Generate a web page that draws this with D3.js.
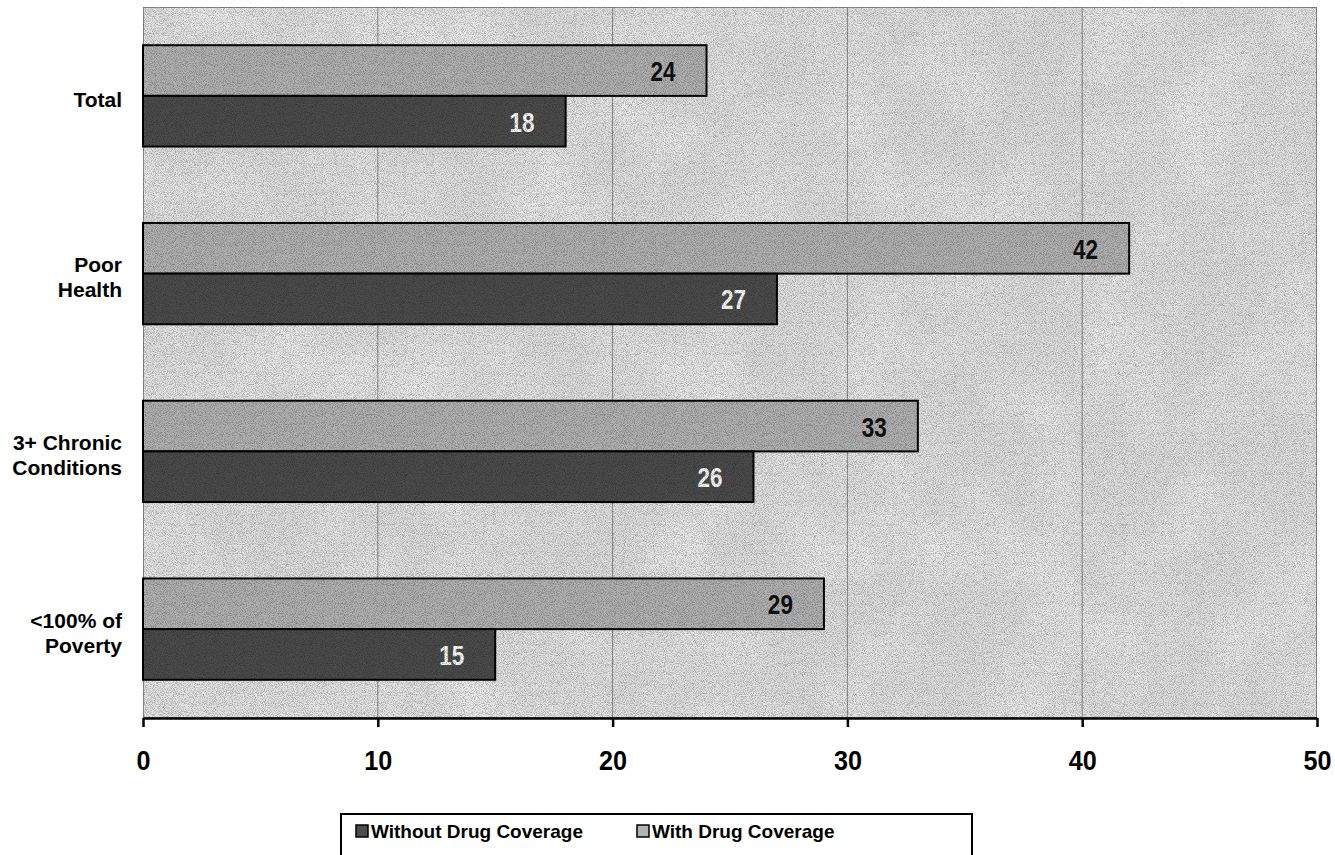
<!DOCTYPE html>
<html>
<head>
<meta charset="utf-8">
<script src="https://cdn.jsdelivr.net/npm/d3@7"></script>
<style>
  html, body { margin: 0; padding: 0; background: #ffffff; }
  svg { display: block; }
  text { font-family: Arial, "Liberation Sans", Helvetica, sans-serif; font-weight: bold; }
</style>
</head>
<body>
<svg id="chart" width="1335" height="855"></svg>
<script>
// Share of beneficiaries, by group and drug coverage
const categories = [["Total"], ["Poor", "Health"], ["3+ Chronic", "Conditions"], ["<100% of", "Poverty"]];
const categoryKeys = ["Total", "Poor Health", "3+ Chronic Conditions", "<100% of Poverty"];
const withCoverage = [24, 42, 33, 29];
const withoutCoverage = [18, 27, 26, 15];
const seriesNames = ["With Drug Coverage", "Without Drug Coverage"];
const legendOrder = ["Without Drug Coverage", "With Drug Coverage"];
const xTicks = [0, 10, 20, 30, 40, 50];

const svg = d3.select("#chart");
const plot = { left: 143, right: 1317, top: 7, bottom: 718 };

const x = d3.scaleLinear().domain([0, 50]).range([plot.left, plot.right]);
const y = d3.scaleBand().domain(categoryKeys).range([plot.top, plot.bottom])
  .paddingInner(0.43).paddingOuter(0.215);
const sub = d3.scaleBand().domain(seriesNames).range([0, y.bandwidth()]);

const fills = { "With Drug Coverage": "#b2b2b2", "Without Drug Coverage": "#4c4c4c" };
const labelColors = { "With Drug Coverage": "#111111", "Without Drug Coverage": "#ffffff" };

// grain texture used by the plot background and bars
const defs = svg.append("defs");
const grain = defs.append("filter").attr("id", "grain")
  .attr("x", 0).attr("y", 0).attr("width", "100%").attr("height", "100%");
grain.append("feTurbulence").attr("type", "fractalNoise")
  .attr("baseFrequency", 1.1).attr("numOctaves", 1).attr("seed", 7).attr("result", "noise");
grain.append("feColorMatrix").attr("in", "noise").attr("type", "matrix")
  .attr("values", "0 0 0 0 0  0 0 0 0 0  0 0 0 0 0  2.6 0 0 0 -1.05");
const haze = defs.append("filter").attr("id", "haze")
  .attr("x", 0).attr("y", 0).attr("width", "100%").attr("height", "100%");
haze.append("feTurbulence").attr("type", "fractalNoise")
  .attr("baseFrequency", 0.012).attr("numOctaves", 3).attr("seed", 3).attr("result", "n");
haze.append("feColorMatrix").attr("in", "n").attr("type", "matrix")
  .attr("values", "0 0 0 0 1  0 0 0 0 1  0 0 0 0 1  0 0 0 1.6 -0.6");

defs.append("clipPath").attr("id", "plotClip").append("rect")
  .attr("x", plot.left).attr("y", plot.top)
  .attr("width", plot.right - plot.left).attr("height", plot.bottom - plot.top);

// plot background
svg.append("rect")
  .attr("x", plot.left).attr("y", plot.top)
  .attr("width", plot.right - plot.left).attr("height", plot.bottom - plot.top)
  .attr("fill", "#e0e0e0");
svg.append("rect")
  .attr("x", plot.left).attr("y", plot.top)
  .attr("width", plot.right - plot.left).attr("height", plot.bottom - plot.top)
  .attr("fill", "#fff").attr("filter", "url(#haze)").attr("opacity", 0.6);

// vertical gridlines
svg.append("g").selectAll("line")
  .data(xTicks.slice(1, -1))
  .join("line")
  .attr("x1", d => x(d)).attr("x2", d => x(d))
  .attr("y1", plot.top).attr("y2", plot.bottom)
  .attr("stroke", "#8c8c8c").attr("stroke-width", 1);

// plot border
svg.append("rect")
  .attr("x", plot.left + 0.5).attr("y", plot.top + 0.5)
  .attr("width", plot.right - plot.left - 1).attr("height", plot.bottom - plot.top - 1)
  .attr("fill", "none").attr("stroke", "#8a8a8a").attr("stroke-width", 1);

// bars
const rows = categoryKeys.map((k, i) => ({
  key: k,
  values: [
    { series: "With Drug Coverage", value: withCoverage[i] },
    { series: "Without Drug Coverage", value: withoutCoverage[i] }
  ]
}));

const groups = svg.append("g").selectAll("g")
  .data(rows).join("g")
  .attr("transform", d => `translate(0,${y(d.key)})`);

groups.selectAll("rect.bar")
  .data(d => d.values).join("rect")
  .attr("class", "bar")
  .attr("x", x(0)).attr("y", d => sub(d.series))
  .attr("width", d => x(d.value) - x(0)).attr("height", sub.bandwidth())
  .attr("fill", d => fills[d.series])
  .attr("stroke", "#000").attr("stroke-width", 2);

// grain over everything inside the plot
svg.append("rect")
  .attr("x", plot.left).attr("y", plot.top)
  .attr("width", plot.right - plot.left).attr("height", plot.bottom - plot.top)
  .attr("fill", "#000").attr("filter", "url(#grain)").attr("opacity", 0.32)
  .attr("clip-path", "url(#plotClip)");

// value labels
groups.selectAll("text.val")
  .data(d => d.values).join("text")
  .attr("class", "val")
  .attr("transform", d => `translate(${x(d.value) - 31},${sub(d.series) + sub.bandwidth() / 2 + 10.5}) scale(0.92,1.14)`)
  .attr("text-anchor", "end")
  .attr("font-size", 24.5)
  .attr("fill", d => labelColors[d.series])
  .text(d => d.value);

// category labels, one text element per line
const catGroups = svg.append("g").selectAll("g")
  .data(categoryKeys).join("g");
catGroups.each(function (k, i) {
  const lines = categories[i];
  const g = d3.select(this);
  const cy = y(k) + y.bandwidth() / 2;
  const lh = 25;
  lines.forEach((ln, j) => {
    g.append("text")
      .attr("x", 122)
      .attr("y", cy + 11 + (j - (lines.length - 1) / 2) * lh)
      .attr("text-anchor", "end")
      .attr("font-size", 21)
      .attr("fill", "#000")
      .text(ln);
  });
});

// x axis
const axis = svg.append("g").attr("transform", `translate(0,${plot.bottom})`)
  .call(d3.axisBottom(x).tickValues(xTicks).tickSize(9).tickSizeOuter(0));
axis.select(".domain").attr("stroke", "#000").attr("stroke-width", 2.5);
axis.selectAll(".tick line").attr("stroke", "#000").attr("stroke-width", 2.5);
axis.selectAll(".tick text")
  .attr("font-size", 28).attr("font-weight", "bold").attr("fill", "#000")
  .attr("font-family", "Arial, 'Liberation Sans', sans-serif")
  .attr("y", 0).attr("dy", null)
  .attr("transform", "translate(0,52) scale(0.9,1)");

// legend
const legend = svg.append("g");
legend.append("rect")
  .attr("x", 341).attr("y", 814).attr("width", 631).attr("height", 60)
  .attr("fill", "#fff").attr("stroke", "#000").attr("stroke-width", 2);
const legendFills = { "Without Drug Coverage": "#4c4c4c", "With Drug Coverage": "#b2b2b2" };
const legendX = [356, 637];
legendOrder.forEach((name, i) => {
  legend.append("rect")
    .attr("x", legendX[i]).attr("y", 825).attr("width", 12).attr("height", 12)
    .attr("fill", legendFills[name]).attr("stroke", "#000").attr("stroke-width", 1.5);
  legend.append("text")
    .attr("x", legendX[i] + 15).attr("y", 838)
    .attr("font-size", 19).attr("fill", "#000")
    .text(name);
});
</script>
</body>
</html>
